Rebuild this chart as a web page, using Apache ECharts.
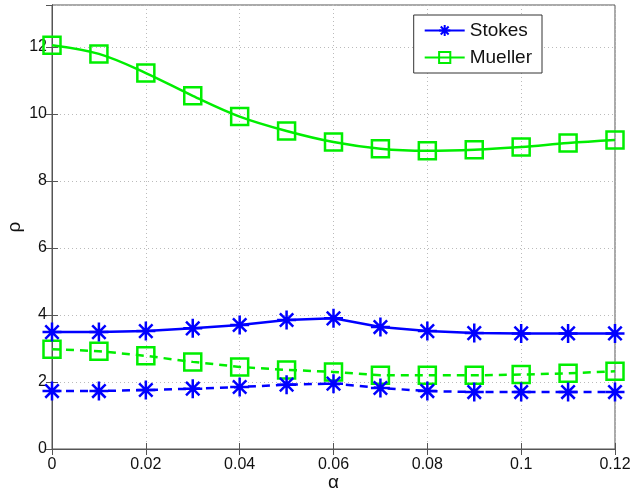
<!DOCTYPE html>
<html>
<head>
<meta charset="utf-8">
<script src="https://cdn.jsdelivr.net/npm/echarts@6/dist/echarts.min.js"></script>
<style>html,body{margin:0;padding:0;background:#fff}#c{width:635px;height:494px}</style>
</head>
<body>
<div id="c"></div>
<script>
const alphaValues = [0, 0.01, 0.02, 0.03, 0.04, 0.05, 0.06, 0.07, 0.08, 0.09, 0.10, 0.11, 0.12];
const stokesSolid = [3.49, 3.49, 3.52, 3.60, 3.70, 3.85, 3.90, 3.64, 3.52, 3.46, 3.45, 3.45, 3.45];
const stokesDashed = [1.73, 1.73, 1.76, 1.80, 1.85, 1.92, 1.95, 1.82, 1.73, 1.70, 1.70, 1.70, 1.70];
const muellerSolid = [12.05, 11.79, 11.22, 10.54, 9.92, 9.49, 9.16, 8.96, 8.90, 8.93, 9.01, 9.13, 9.22];
const muellerDashed = [2.98, 2.92, 2.78, 2.60, 2.45, 2.36, 2.30, 2.20, 2.20, 2.20, 2.22, 2.26, 2.32];
const xTicks = [0, 0.02, 0.04, 0.06, 0.08, 0.1, 0.12];
const yTicks = [0, 2, 4, 6, 8, 10, 12];

const BLUE = '#0000ff', GREEN = '#00ee00';
const FONT = '"Liberation Sans", Arial, sans-serif';
const asterisk = 'path://M0,-10L0,10M-10,0L10,0M-7.07,-7.07L7.07,7.07M-7.07,7.07L7.07,-7.07';

function pairs(ys) { return alphaValues.map((x, i) => [x, ys[i]]); }

const chart = echarts.init(document.getElementById('c'), null, {renderer: 'canvas'});

const axisCommon = {
  axisLine: {show: true, lineStyle: {color: '#555', width: 1}},
  axisTick: {show: true, inside: true, length: 6, lineStyle: {color: '#555'}},
};

function series(name, ys, dashed, isStokes, smooth) {
  return {
    name: name,
    type: 'line',
    data: pairs(ys),
    clip: false,
    smooth: smooth ? 0.35 : false,
    symbol: isStokes ? asterisk : 'rect',
    symbolSize: isStokes ? 19 : 17,
    lineStyle: {color: isStokes ? BLUE : GREEN, width: 2.5, type: dashed ? [8, 6] : 'solid'},
    itemStyle: {color: 'rgba(0,0,0,0)', borderColor: isStokes ? BLUE : GREEN, borderWidth: 2.5},
    emphasis: {disabled: true},
    z: isStokes ? 3 : 2
  };
}

chart.setOption({
  animation: false,
  backgroundColor: '#fff',
  grid: {left: 52, right: 20, top: 5, bottom: 45, show: true, borderColor: '#555', borderWidth: 1,
    containLabel: false, outerBoundsMode: 'none'},
  legend: {
    data: ['Stokes', 'Mueller'],
    orient: 'vertical',
    right: 93, top: 15,
    backgroundColor: '#fff',
    borderColor: '#333', borderWidth: 1,
    padding: [6, 10, 6, 10],
    itemWidth: 40, itemHeight: 14, itemGap: 8,
    textStyle: {fontFamily: FONT, fontSize: 19, color: '#111'},
    selectedMode: false
  },
  xAxis: [
    Object.assign({
      type: 'value', min: 0, max: 0.12, interval: 0.02, position: 'bottom',
      name: 'α', nameLocation: 'middle', nameGap: 24, nameMoveOverlap: false,
      nameTextStyle: {fontFamily: FONT, fontSize: 19, color: '#111'},
      axisLabel: {fontFamily: FONT, fontSize: 16, color: '#111', margin: 8,
        formatter: v => String(parseFloat(v.toFixed(2)))},
      splitLine: {show: true, lineStyle: {color: '#bbb', type: [1, 3], width: 1}}
    }, axisCommon),
    Object.assign({
      type: 'value', min: 0, max: 0.12, interval: 0.02, position: 'top',
      axisLabel: {show: false}, splitLine: {show: false}
    }, axisCommon)
  ],
  yAxis: [
    Object.assign({
      type: 'value', min: 0, max: 13.25, interval: 2, position: 'left',
      name: 'ρ', nameLocation: 'middle', nameGap: 28, nameRotate: 90, nameMoveOverlap: false,
      nameTextStyle: {fontFamily: FONT, fontSize: 19, color: '#111'},
      axisLabel: {fontFamily: FONT, fontSize: 16, color: '#111', margin: 5, showMaxLabel: false,
        formatter: v => (yTicks.indexOf(v) >= 0 ? String(v) : '')},
      splitLine: {show: true, lineStyle: {color: '#bbb', type: [1, 3], width: 1}}
    }, axisCommon),
    Object.assign({
      type: 'value', min: 0, max: 13.25, interval: 2, position: 'right',
      axisLabel: {show: false}, splitLine: {show: false}
    }, axisCommon)
  ],
  series: [
    series('Stokes', stokesSolid, false, true, false),
    series('Mueller', muellerSolid, false, false, true),
    series('Stokes', stokesDashed, true, true, false),
    series('Mueller', muellerDashed, true, false, false)
  ]
});
</script>
</body>
</html>
